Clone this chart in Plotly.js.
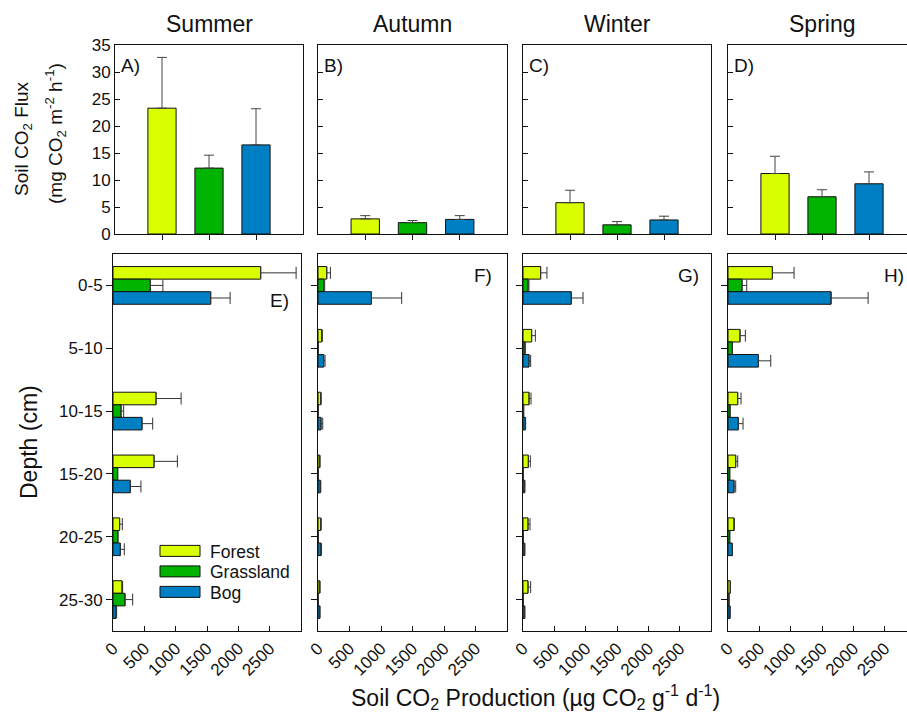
<!DOCTYPE html>
<html>
<head>
<meta charset="utf-8">
<script src="https://cdn.plot.ly/plotly-3.0.1.min.js"></script>
<style>
html,body{margin:0;padding:0;overflow:hidden;background:#fff;}
#chart{width:925px;height:718px;}
</style>
</head>
<body>
<div id="chart"></div>
<script>
// ---------- data ----------
const seasons = ['Summer', 'Autumn', 'Winter', 'Spring'];
const panelTop = ['A)', 'B)', 'C)', 'D)'];
const panelBottom = ['E)', 'F)', 'G)', 'H)'];
const habitats = ['Forest', 'Grassland', 'Bog'];
const depths = ['0-5', '5-10', '10-15', '15-20', '20-25', '25-30'];
const fluxTicks = [0, 5, 10, 15, 20, 25, 30, 35];
const prodTicks = [0, 500, 1000, 1500, 2000, 2500];

// Soil CO2 flux (mg CO2 m-2 h-1): Forest, Grassland, Bog
const fluxSummer = [23.3, 12.2, 16.5];
const fluxSummerErr = [9.4, 2.4, 6.7];
const fluxAutumn = [2.8, 2.1, 2.7];
const fluxAutumnErr = [0.6, 0.4, 0.7];
const fluxWinter = [5.8, 1.7, 2.6];
const fluxWinterErr = [2.3, 0.6, 0.7];
const fluxSpring = [11.2, 6.9, 9.3];
const fluxSpringErr = [3.2, 1.3, 2.2];

// Soil CO2 production (ug CO2 g-1 d-1) by depth
const summerForest = [2357, null, 687, 655, 106, 144];
const summerForestErr = [565, null, 400, 372, 43, 10];
const summerGrass = [596, null, 128, 74, 74, 192];
const summerGrassErr = [200, null, 42, 0, 8, 122];
const summerBog = [1559, null, 463, 276, 117, 48];
const summerBogErr = [310, null, 170, 170, 63, 10];

const autumnForest = [139, 59, 43, 27, 43, 27];
const autumnForestErr = [58, 10, 8, 5, 8, 5];
const autumnGrass = [91, 5, 3, 5, 5, 3];
const autumnGrassErr = [15, 0, 0, 0, 0, 0];
const autumnBog = [848, 91, 48, 37, 48, 27];
const autumnBogErr = [480, 21, 27, 8, 8, 5];

const winterForest = [282, 138, 96, 85, 80, 80];
const winterForestErr = [100, 59, 32, 32, 32, 42];
const winterGrass = [80, 32, 10, 5, 5, 3];
const winterGrassErr = [15, 0, 0, 0, 0, 0];
const winterBog = [771, 96, 37, 27, 27, 27];
const winterBogErr = [187, 26, 5, 0, 0, 0];

const springForest = [708, 192, 155, 123, 96, 37];
const springForestErr = [346, 85, 53, 32, 5, 0];
const springGrass = [224, 69, 32, 27, 27, 15];
const springGrassErr = [75, 0, 0, 0, 0, 0];
const springBog = [1645, 485, 165, 96, 69, 32];
const springBogErr = [591, 197, 75, 27, 0, 0];

// ---------- styling / layout ----------
const colors = ['#d9ff00', '#00b300', '#0080c4'];
const W = 925, H = 718;
const FONT = 'Liberation Sans, Arial, sans-serif';
const px = v => v / W;
const py = v => 1 - v / H;

const fluxVals = [fluxSummer, fluxAutumn, fluxWinter, fluxSpring];
const fluxErrs = [fluxSummerErr, fluxAutumnErr, fluxWinterErr, fluxSpringErr];
const prodVals = [
  [summerForest, summerGrass, summerBog],
  [autumnForest, autumnGrass, autumnBog],
  [winterForest, winterGrass, winterBog],
  [springForest, springGrass, springBog]
];
const prodErrs = [
  [summerForestErr, summerGrassErr, summerBogErr],
  [autumnForestErr, autumnGrassErr, autumnBogErr],
  [winterForestErr, winterGrassErr, winterBogErr],
  [springForestErr, springGrassErr, springBogErr]
];

const topX = [[115, 303], [318, 507], [523, 711], [728, 916]];
const botX = [[113, 301], [318, 507], [523, 711], [728, 916]];
const topY = [45, 234];
const botY = [254, 631];

const traces = [];
const layout = {
  width: W, height: H,
  margin: {l: 0, r: 0, t: 0, b: 0},
  paper_bgcolor: '#fff', plot_bgcolor: '#fff',
  font: {family: FONT, size: 17, color: '#111'},
  barmode: 'group', bargap: 0.4, bargroupgap: 0,
  showlegend: true,
  legend: {
    x: px(150), y: py(533), xanchor: 'left', yanchor: 'top',
    font: {family: FONT, size: 17.5, color: '#111'},
    bgcolor: 'rgba(0,0,0,0)', itemwidth: 50, tracegroupgap: 0
  },
  annotations: []
};

for (let s = 0; s < 4; s++) {
  const xa = s + 1, ya = s + 1;
  const xb = s + 5, yb = s + 5;
  const xSuf = xa === 1 ? '' : xa, ySuf = ya === 1 ? '' : ya;

  // top flux bars
  traces.push({
    type: 'bar', x: habitats, y: fluxVals[s],
    xaxis: 'x' + xSuf, yaxis: 'y' + ySuf,
    marker: {color: colors, line: {color: '#111', width: 1}},
    error_y: {type: 'data', array: fluxErrs[s], arrayminus: fluxErrs[s].map(() => 0),
      symmetric: false, color: '#444', thickness: 1, width: 5},
    showlegend: false, hoverinfo: 'none'
  });

  // bottom production bars
  for (let h = 0; h < 3; h++) {
    traces.push({
      type: 'bar', orientation: 'h', name: habitats[h],
      y: depths, x: prodVals[s][h],
      xaxis: 'x' + xb, yaxis: 'y' + yb,
      marker: {color: colors[h], line: {color: '#111', width: 1}},
      error_x: {type: 'data', array: prodErrs[s][h], arrayminus: prodErrs[s][h].map(() => 0),
        symmetric: false, color: '#333', thickness: 1, width: 6},
      showlegend: s === 0, legendgroup: habitats[h], hoverinfo: 'none'
    });
  }

  const axBase = {showgrid: false, zeroline: false, showline: true, linecolor: '#111',
    linewidth: 1, mirror: true, tickcolor: '#111', ticklen: 5, tickwidth: 1,
    tickfont: {family: FONT, size: 17, color: '#111'}, fixedrange: true};

  layout['xaxis' + xSuf] = Object.assign({}, axBase, {
    domain: [px(topX[s][0]), px(topX[s][1])], anchor: 'y' + ySuf,
    type: 'category', categoryarray: habitats, range: [-1, 3],
    ticks: 'outside', showticklabels: false
  });
  layout['yaxis' + ySuf] = Object.assign({}, axBase, {
    domain: [py(topY[1]), py(topY[0])], anchor: 'x' + xSuf,
    range: [0, 35], tickvals: fluxTicks, ticks: 'inside',
    showticklabels: s === 0
  });
  layout['xaxis' + xb] = Object.assign({}, axBase, {
    domain: [px(botX[s][0]), px(botX[s][1])], anchor: 'y' + yb,
    range: [0, 3000], tickvals: prodTicks, ticks: 'inside', tickangle: -45,
    showticklabels: true
  });
  layout['yaxis' + yb] = Object.assign({}, axBase, {
    domain: [py(botY[1]), py(botY[0])], anchor: 'x' + xb,
    type: 'category', categoryarray: depths, range: [5.5, -0.5],
    ticks: 'outside', ticklen: 6, showticklabels: s === 0
  });

  // season titles
  layout.annotations.push({
    text: seasons[s], xref: 'paper', yref: 'paper',
    x: px((topX[s][0] + topX[s][1]) / 2), y: py(24), xanchor: 'center', yanchor: 'middle',
    showarrow: false, font: {family: FONT, size: 23, color: '#111'}
  });
  // panel letters
  layout.annotations.push({
    text: panelTop[s], xref: 'paper', yref: 'paper',
    x: px(topX[s][0] + 4), y: py(66), xanchor: 'left', yanchor: 'middle',
    showarrow: false, font: {family: FONT, size: 19, color: '#111'}
  });
  const botLabelPos = [[291, 300], [494, 275], [701, 275], [906, 275]];
  layout.annotations.push({
    text: panelBottom[s], xref: 'paper', yref: 'paper',
    x: px(botLabelPos[s][0]), y: py(botLabelPos[s][1]), xanchor: 'right', yanchor: 'middle',
    showarrow: false, font: {family: FONT, size: 19, color: '#111'}
  });
}

// axis titles
layout.annotations.push({
  text: 'Soil CO<sub>2</sub> Flux', xref: 'paper', yref: 'paper',
  x: px(23), y: py(139), xanchor: 'center', yanchor: 'middle', textangle: -90,
  showarrow: false, font: {family: FONT, size: 19, color: '#111'}
});
layout.annotations.push({
  text: '(mg CO<sub>2</sub> m<sup>-2</sup> h<sup>-1</sup>)', xref: 'paper', yref: 'paper',
  x: px(55), y: py(134), xanchor: 'center', yanchor: 'middle', textangle: -90,
  showarrow: false, font: {family: FONT, size: 19, color: '#111'}
});
layout.annotations.push({
  text: 'Depth (cm)', xref: 'paper', yref: 'paper',
  x: px(29), y: py(442), xanchor: 'center', yanchor: 'middle', textangle: -90,
  showarrow: false, font: {family: FONT, size: 23, color: '#111'}
});
layout.annotations.push({
  text: 'Soil CO<sub>2</sub> Production (\u00b5g CO<sub>2</sub> g<sup>-1</sup> d<sup>-1</sup>)',
  xref: 'paper', yref: 'paper',
  x: px(535), y: py(697), xanchor: 'center', yanchor: 'middle',
  showarrow: false, font: {family: FONT, size: 23, color: '#111'}
});

Plotly.newPlot('chart', traces, layout, {staticPlot: true, displayModeBar: false}).then(() => {
  document.querySelectorAll('.legend .legendpoints path').forEach(p => {
    p.setAttribute('d', 'M-20,5.5H20V-5.5H-20Z');
  });
  const items = document.querySelectorAll('.legend .traces');
  if (items.length) {
    const m = /translate\(\s*([-\d.]+)[ ,]+([-\d.]+)/.exec(items[0].getAttribute('transform') || '');
    const x0 = m ? parseFloat(m[1]) : 0;
    const y0 = m ? parseFloat(m[2]) : 0;
    items.forEach((g, i) => g.setAttribute('transform', 'translate(' + x0 + ',' + (y0 + i * 20.5) + ')'));
  }
});
</script>
</body>
</html>
